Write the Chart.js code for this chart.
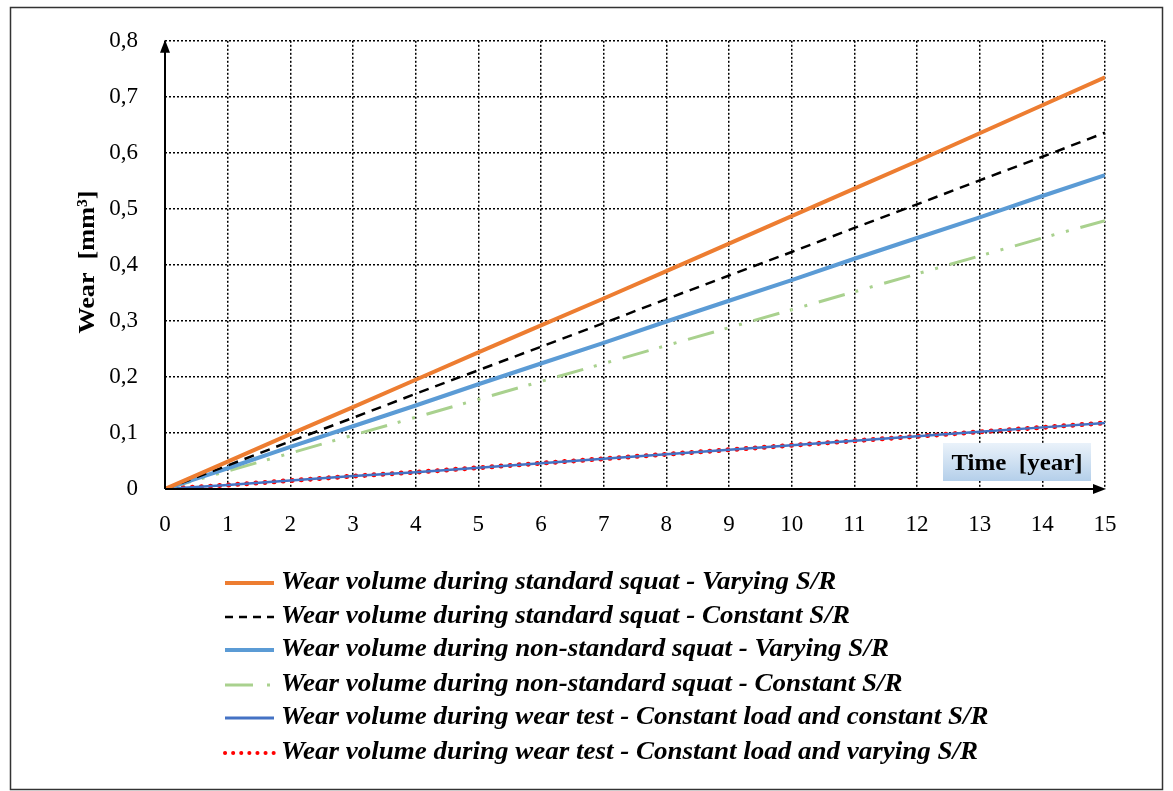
<!DOCTYPE html>
<html>
<head>
<meta charset="utf-8">
<script src="https://cdn.jsdelivr.net/npm/chart.js@4.4.1/dist/chart.umd.min.js"></script>
<style>
  html, body { margin: 0; padding: 0; background: #fff; }
  #wrap { width: 1173px; height: 791px; }
</style>
</head>
<body>
<div id="wrap"><canvas id="grafica" width="1173" height="791"></canvas></div>
<script>
const years = [0, 1, 2, 3, 4, 5, 6, 7, 8, 9, 10, 11, 12, 13, 14, 15];
const stdVarying = [0, 0.049, 0.098, 0.146, 0.195, 0.244, 0.292, 0.340, 0.389, 0.438, 0.487, 0.536, 0.585, 0.635, 0.685, 0.735];
const stdConstant = [0, 0.042, 0.085, 0.127, 0.170, 0.212, 0.254, 0.296, 0.339, 0.381, 0.423, 0.466, 0.508, 0.551, 0.593, 0.636];
const nonStdVarying = [0, 0.037, 0.075, 0.112, 0.149, 0.187, 0.224, 0.261, 0.299, 0.336, 0.373, 0.411, 0.448, 0.485, 0.523, 0.560];
const nonStdConstant = [0, 0.032, 0.064, 0.096, 0.128, 0.160, 0.192, 0.224, 0.256, 0.288, 0.320, 0.352, 0.384, 0.416, 0.448, 0.479];
const testConstant = [0, 0.007, 0.015, 0.023, 0.030, 0.038, 0.046, 0.054, 0.062, 0.070, 0.078, 0.086, 0.094, 0.102, 0.110, 0.118];
const testVarying = [0, 0.007, 0.015, 0.023, 0.030, 0.038, 0.046, 0.054, 0.062, 0.070, 0.078, 0.086, 0.094, 0.102, 0.110, 0.118];
const yTickLabels = ["0", "0,1", "0,2", "0,3", "0,4", "0,5", "0,6", "0,7", "0,8"];
const seriesNames = [
  "Wear volume during standard squat - Varying S/R",
  "Wear volume during standard squat - Constant S/R",
  "Wear volume during non-standard squat - Varying S/R",
  "Wear volume during non-standard squat - Constant S/R",
  "Wear volume during wear test - Constant load and constant S/R",
  "Wear volume during wear test - Constant load and varying S/R",
];

const serif = "'Liberation Serif', 'Times New Roman', serif";

function puntos(arr) {
  return arr.map((v, i) => ({ x: years[i], y: v }));
}

// texto un poco ensanchado, como en la figura original
function textoAncho(ctx, txt, x, y, escala) {
  ctx.save();
  ctx.translate(x, y);
  ctx.scale(escala, 1);
  ctx.fillText(txt, 0, 0);
  ctx.restore();
}

// ejes con flechas, titulos, leyenda y marco
const extras = {
  id: "extras",
  afterDraw(chart) {
    const { ctx, chartArea: a } = chart;
    ctx.save();
    // marco exterior
    ctx.strokeStyle = "#333";
    ctx.lineWidth = 1.5;
    ctx.strokeRect(10.5, 7.5, 1152, 782);

    // ejes
    ctx.strokeStyle = "#000";
    ctx.fillStyle = "#000";
    ctx.lineWidth = 2;
    ctx.beginPath();
    ctx.moveTo(a.left, a.bottom);
    ctx.lineTo(a.left, a.top + 6);
    ctx.moveTo(a.left, a.bottom);
    ctx.lineTo(a.right - 6, a.bottom);
    ctx.stroke();
    ctx.beginPath();
    ctx.moveTo(a.left, a.top - 1);
    ctx.lineTo(a.left - 5, a.top + 12);
    ctx.lineTo(a.left + 5, a.top + 12);
    ctx.closePath();
    ctx.fill();
    ctx.beginPath();
    ctx.moveTo(a.right + 1, a.bottom);
    ctx.lineTo(a.right - 12, a.bottom - 5);
    ctx.lineTo(a.right - 12, a.bottom + 5);
    ctx.closePath();
    ctx.fill();

    // titulo eje y
    ctx.save();
    ctx.translate(88, 262);
    ctx.rotate(-Math.PI / 2);
    ctx.font = "bold 24px " + serif;
    ctx.textAlign = "center";
    ctx.textBaseline = "middle";
    textoAncho(ctx, "Wear  [mm³]", 0, 0, 1.09);
    ctx.restore();

    // caja titulo eje x
    const g = ctx.createLinearGradient(0, 443, 0, 481);
    g.addColorStop(0, "#eaf2fa");
    g.addColorStop(1, "#b4cfea");
    ctx.fillStyle = g;
    ctx.fillRect(943, 443, 148, 38);
    ctx.fillStyle = "#000";
    ctx.font = "bold 24px " + serif;
    ctx.textAlign = "center";
    ctx.textBaseline = "middle";
    textoAncho(ctx, "Time  [year]", 1017, 464, 1.04);

    // leyenda
    const filas = [583, 617, 650, 685, 718, 753];
    chart.data.datasets.forEach((ds, i) => {
      const y = filas[i];
      ctx.save();
      ctx.strokeStyle = ds.borderColor;
      ctx.lineWidth = ds.legendWidth || ds.borderWidth;
      ctx.lineCap = ds.borderCapStyle || "butt";
      ctx.setLineDash(ds.legendDash || ds.borderDash || []);
      ctx.beginPath();
      ctx.moveTo(225, y);
      ctx.lineTo(274, y);
      ctx.stroke();
      ctx.restore();
      ctx.font = "italic bold 25px " + serif;
      ctx.textAlign = "left";
      ctx.textBaseline = "middle";
      ctx.fillStyle = "#000";
      textoAncho(ctx, ds.label, 281, y, 1.08);
    });
    ctx.restore();
  },
};

new Chart(document.getElementById("grafica").getContext("2d"), {
  type: "line",
  data: {
    datasets: [
      {
        label: seriesNames[0],
        data: puntos(stdVarying),
        borderColor: "#ED7D31",
        borderWidth: 4,
      },
      {
        label: seriesNames[1],
        data: puntos(stdConstant),
        borderColor: "#000000",
        borderWidth: 2.5,
        borderDash: [10, 7],
        legendDash: [8, 6],
      },
      {
        label: seriesNames[2],
        data: puntos(nonStdVarying),
        borderColor: "#5B9BD5",
        borderWidth: 4,
      },
      {
        label: seriesNames[3],
        data: puntos(nonStdConstant),
        borderColor: "#A9D18E",
        borderWidth: 3,
        borderDash: [27, 11, 3, 12, 3, 12],
        legendDash: [28, 14, 3, 10],
      },
      {
        label: seriesNames[4],
        data: puntos(testConstant),
        borderColor: "#4472C4",
        borderWidth: 2.5,
        legendWidth: 3,
      },
      {
        label: seriesNames[5],
        data: puntos(testVarying),
        borderColor: "#FF0000",
        borderWidth: 5,
        legendWidth: 4,
        borderDash: [0.1, 9],
        legendDash: [0.1, 8],
        borderCapStyle: "round",
      },
    ],
  },
  options: {
    responsive: false,
    animation: false,
    layout: { padding: { left: 10, top: 35, right: 68, bottom: 0 } },
    elements: { point: { radius: 0 }, line: { tension: 0 } },
    plugins: {
      legend: { display: false },
      tooltip: { enabled: false },
    },
    scales: {
      x: {
        type: "linear",
        min: 0,
        max: 15,
        afterFit: (s) => { s.height = 302; },
        border: { display: false, dash: [2, 2] },
        grid: { color: "#000", lineWidth: 1.5, drawTicks: false },
        ticks: {
          stepSize: 1,
          padding: 22,
          color: "#000",
          font: { family: serif, size: 23 },
        },
      },
      y: {
        min: 0,
        max: 0.8,
        afterFit: (s) => { s.width = 155; },
        border: { display: false, dash: [2, 2] },
        grid: { color: "#000", lineWidth: 1.5, drawTicks: false },
        ticks: {
          stepSize: 0.1,
          padding: 27,
          color: "#000",
          font: { family: serif, size: 23 },
          callback: (v, i) => yTickLabels[i],
        },
      },
    },
  },
  plugins: [extras],
});
</script>
</body>
</html>
